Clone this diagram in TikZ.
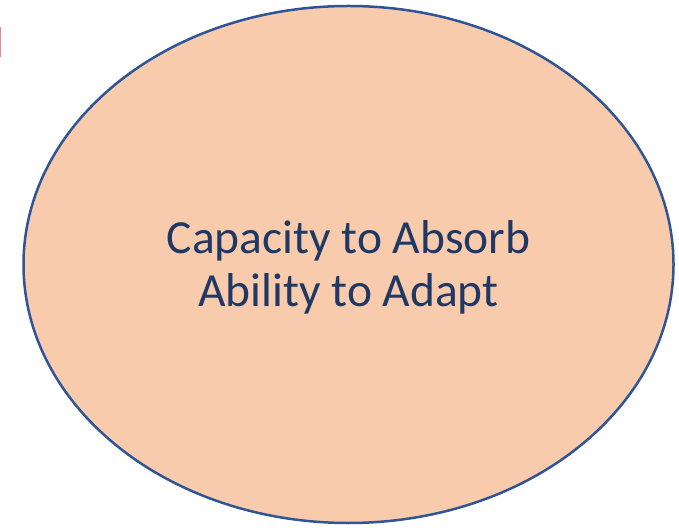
\documentclass[tikz,border=0pt]{standalone}
\usetikzlibrary{shapes.geometric}
\usepackage{fontspec}
\setmainfont{Carlito}
\definecolor{fillpeach}{HTML}{F8CBAD}
\definecolor{edgeblue}{HTML}{2F5597}
\definecolor{textnavy}{HTML}{203864}
\definecolor{markred}{HTML}{E88A8A}
\begin{document}
\begin{tikzpicture}[x=1pt,y=1pt,
  bubble/.style={ellipse, draw=edgeblue, line width=2.5pt, fill=fillpeach, minimum width=650pt, minimum height=517pt, inner sep=0pt},
  bubbletext/.style={text=textnavy, align=center, font=\fontsize{47.5}{53}\selectfont}]
\useasboundingbox (0,0) rectangle (679,527);
\node[bubble] (e) at (348.5,262.5) {};
\node[bubbletext] (t) at (348.5,259.5) {Capacity to Absorb\\Ability to Adapt};
\fill[markred] (0,470) rectangle (1.3,500);
\end{tikzpicture}
\end{document}
